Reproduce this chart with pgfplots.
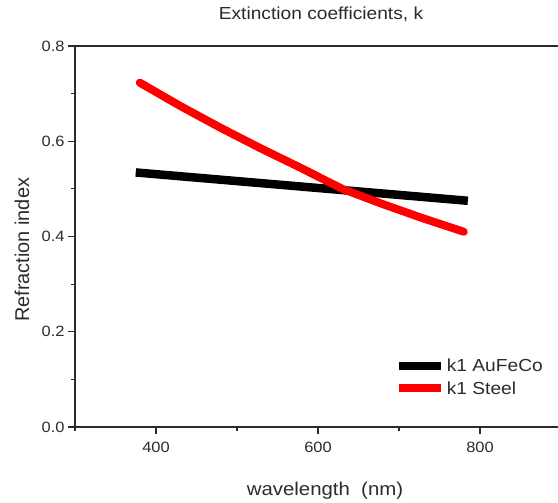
\documentclass[border=0pt]{standalone}
\usepackage{fontspec}
\setmainfont{Liberation Sans}
\newfontfamily\wide[FakeStretch=1.1]{Liberation Sans}
\usepackage{pgfplots}
\pgfplotsset{compat=1.18}
\definecolor{axgray}{HTML}{2B2B2B}
\definecolor{kred}{HTML}{FF0000}
\begin{document}
\begin{tikzpicture}
\begin{axis}[
  name=ax, at={(0,0)}, anchor=south west,
  scale only axis, width=486bp, height=381bp,
  xmin=300, xmax=900, ymin=0, ymax=0.8,
  xtick={400,600,800}, minor xtick={300,500,700,900},
  ytick={0,0.2,0.4,0.6,0.8}, minor ytick={0.1,0.3,0.5,0.7},
  xtick pos=bottom, ytick pos=left, tick align=outside,
  major tick length=7bp, minor tick length=4bp,
  axis line style={line width=1.3bp, axgray},
  every tick/.style={line width=1.1bp, axgray},
  /pgf/number format/assume math mode=true,
  yticklabel style={/pgf/number format/.cd, fixed, fixed zerofill, precision=1},
  tick label style={font=\wide\fontsize{15}{15}\selectfont, text=axgray},
  xticklabel style={yshift=-5bp},
  title={Extinction coefficients, k},
  title style={at={(axis description cs:0.5,1)}, anchor=base, yshift=21bp, xshift=3bp,
    font=\wide\fontsize{17.5}{17.5}\selectfont, text=axgray},
  xlabel={wavelength\ \ (nm)},
  xlabel style={at={(axis description cs:0.5,0)}, anchor=base, yshift=-68bp, xshift=7bp,
    font=\wide\fontsize{18.6}{18.6}\selectfont, text=axgray},
  ylabel={Refraction index},
  ylabel style={at={(axis description cs:-0.109,0.465)}, anchor=center,
    font=\fontsize{20}{20}\selectfont, text=axgray},
  legend style={draw=none, fill=none, at={(axis cs:691,0.151)}, anchor=north west,
    font=\wide\fontsize{17.5}{17.5}\selectfont, text=axgray, row sep=4bp},
  legend cell align=left,
  legend image code/.code={\draw[#1, line width=8bp, line cap=butt] (0bp,0bp) -- (42bp,0bp);},
]
\addplot[black, line width=8.5bp, line cap=butt] coordinates {(375,0.5345) (785,0.475)};
\addlegendentry{k1 AuFeCo}
\addplot[kred, line width=8bp, line cap=round, line join=round] coordinates {
  (380,0.7230) (430,0.6740) (480,0.6280) (530,0.5845) (580,0.5430)
  (630,0.5000) (680,0.4680) (730,0.4380) (780,0.4100)};
\addlegendentry{k1 Steel}
\end{axis}
\pgfresetboundingbox
\path[use as bounding box] (ax.south west) ++(-75bp,-76bp) rectangle ++(558bp,503bp);
\end{tikzpicture}
\end{document}
